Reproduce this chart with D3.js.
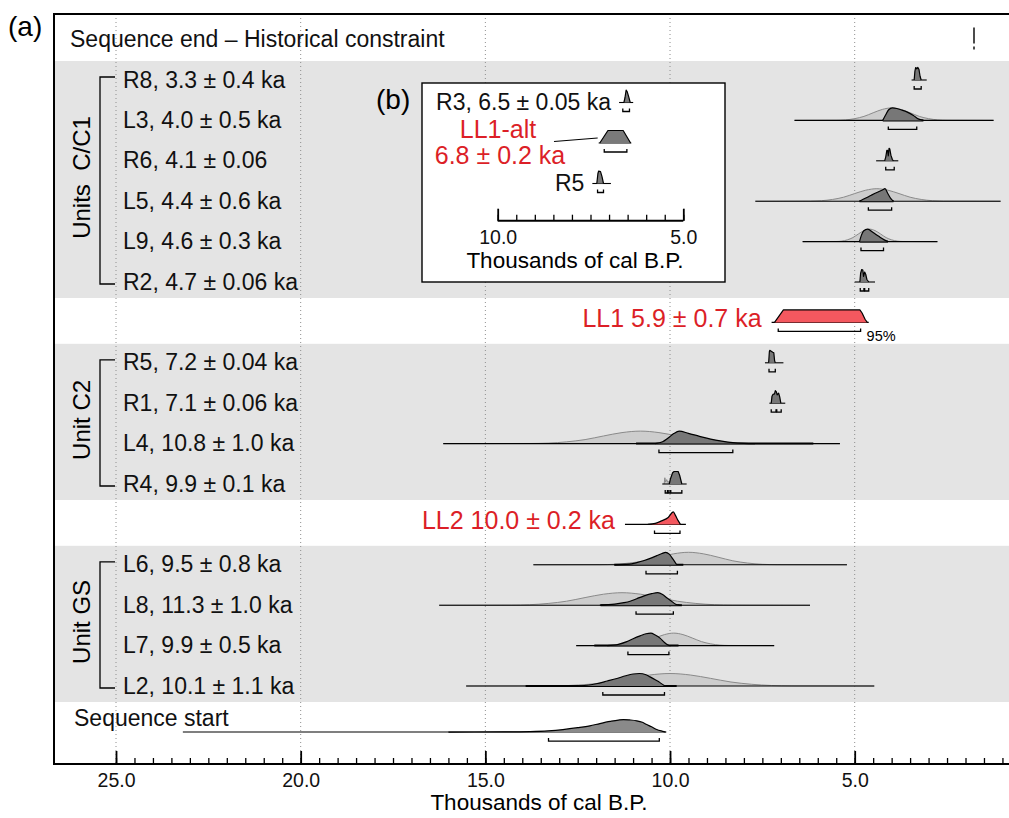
<!DOCTYPE html>
<html>
<head>
	<meta charset="utf-8">
	<title>Sequence model</title>
	<script src="https://cdn.jsdelivr.net/npm/d3@7"></script>
	<style>
		body { margin: 0; background: #fff; }
		svg { font-family: "Liberation Sans", Arial, Helvetica, sans-serif; }
	</style>
</head>
<body>
<div id="chart"></div>
<script>

	// data, top to bottom (ages in thousands of cal B.P., heights relative to peak)

	const rowLabels = [
		"Sequence end – Historical constraint",
		"R8, 3.3 ± 0.4 ka", "L3, 4.0 ± 0.5 ka", "R6, 4.1 ± 0.06", "L5, 4.4 ± 0.6 ka", "L9, 4.6 ± 0.3 ka", "R2, 4.7 ± 0.06 ka",
		"LL1 5.9 ± 0.7 ka",
		"R5, 7.2 ± 0.04 ka", "R1, 7.1 ± 0.06 ka", "L4, 10.8 ± 1.0 ka", "R4, 9.9 ± 0.1 ka",
		"LL2 10.0 ± 0.2 ka",
		"L6, 9.5 ± 0.8 ka", "L8, 11.3 ± 1.0 ka", "L7, 9.9 ± 0.5 ka", "L2, 10.1 ± 1.1 ka",
		"Sequence start"
	];
	const rowKinds = ["end", "R", "L", "R", "L", "L", "R", "model", "R", "R", "L", "R", "model", "L", "L", "L", "L", "start"];

	const groups = [
		{ name: "Units\u00a0 C/C1", from: 1, to: 6 },
		{ name: "Unit C2", from: 8, to: 11 },
		{ name: "Unit GS", from: 13, to: 16 }
	];

	const constraintAge = 1.77;

	const priors = [
		null, null,
		[[6.63,0],[5.5,.01],[5.25,.04],[5.0,.14],[4.75,.32],[4.5,.61],[4.25,.88],[4.0,1],[3.75,.88],[3.5,.61],[3.25,.32],[3.0,.14],[2.75,.04],[2.5,.01],[1.24,0]],
		null,
		[[7.69,0],[6.2,.01],[5.9,.04],[5.6,.14],[5.3,.32],[5.0,.61],[4.7,.88],[4.4,1],[4.1,.88],[3.8,.61],[3.5,.32],[3.2,.14],[2.9,.04],[2.6,.01],[1.05,0]],
		[[6.41,0],[5.5,.01],[5.35,.04],[5.2,.14],[5.05,.32],[4.9,.61],[4.75,.88],[4.6,1],[4.45,.88],[4.3,.61],[4.15,.32],[4.0,.14],[3.85,.04],[3.7,.01],[2.76,0]],
		null, null, null, null,
		[[16.14,0],[13.8,.01],[13.3,.04],[12.8,.14],[12.3,.32],[11.8,.61],[11.3,.88],[10.8,1],[10.3,.88],[9.8,.61],[9.3,.32],[8.8,.14],[8.3,.04],[7.8,.01],[5.4,0]],
		[[10.16,0],[10.14,.5],[10.12,.15],[10.09,.35],[10.06,.12],[10.03,.2],[10.02,0]],
		null,
		[[13.7,0],[11.9,.01],[11.5,.04],[11.1,.14],[10.7,.32],[10.3,.61],[9.9,.88],[9.5,1],[9.1,.88],[8.7,.61],[8.3,.32],[7.9,.14],[7.5,.04],[7.1,.01],[5.21,0]],
		[[16.25,0],[14.3,.01],[13.8,.04],[13.3,.14],[12.8,.32],[12.3,.61],[11.8,.88],[11.3,1],[10.8,.88],[10.3,.61],[9.8,.32],[9.3,.14],[8.8,.04],[8.3,.01],[6.21,0]],
		[[12.54,0],[11.4,.01],[11.15,.04],[10.9,.14],[10.65,.32],[10.4,.61],[10.15,.88],[9.9,1],[9.65,.88],[9.4,.61],[9.15,.32],[8.9,.14],[8.65,.04],[8.4,.01],[7.18,0]],
		[[15.52,0],[13.3,.01],[12.75,.04],[12.2,.14],[11.65,.32],[11.1,.61],[10.55,.88],[10.0,1],[9.45,.88],[8.9,.61],[8.35,.32],[7.8,.14],[7.25,.04],[6.7,.01],[4.47,0]],
		null
	];

	const posteriors = [
		null,
		[[3.39,0],[3.37,.7],[3.35,1],[3.32,.9],[3.29,1],[3.26,.85],[3.23,.3],[3.2,0]],
		[[4.24,0],[4.16,.45],[4.08,.85],[3.98,1],[3.86,.95],[3.72,.82],[3.59,.68],[3.41,.4],[3.28,.12],[3.14,0]],
		[[4.19,0],[4.16,.3],[4.13,.84],[4.11,.84],[4.09,.4],[4.07,1],[4.05,.95],[4.02,.45],[3.98,.1],[3.95,0]],
		[[4.87,0],[4.7,.25],[4.55,.48],[4.4,.7],[4.25,.9],[4.18,1],[4.1,.6],[4.02,.2],[3.95,0]],
		[[4.87,0],[4.82,.5],[4.76,.85],[4.65,1],[4.5,.72],[4.35,.42],[4.2,.14],[4.1,0]],
		[[4.86,0],[4.84,.7],[4.81,1],[4.78,.95],[4.76,.45],[4.73,.8],[4.7,.6],[4.67,.2],[4.62,0]],
		[[7.17,0],[6.93,1],[4.86,1],[4.8,.75],[4.72,.25],[4.66,0]],
		[[7.33,0],[7.31,.9],[7.3,1],[7.27,.95],[7.22,.85],[7.19,.8],[7.17,.2],[7.15,0]],
		[[7.26,0],[7.24,.55],[7.21,.71],[7.17,.75],[7.15,1],[7.12,.9],[7.1,.66],[7.06,.8],[7.03,.5],[7.0,0]],
		[[10.4,0],[10.2,.15],[10.05,.45],[9.9,.8],[9.75,1],[9.5,.82],[9.2,.58],[8.9,.36],[8.6,.2],[8.3,.08],[8.0,.02],[7.7,0]],
		[[10.02,0],[9.99,.4],[9.93,.9],[9.89,1],[9.78,1],[9.74,.7],[9.68,0]],
		[[10.6,0],[10.4,.08],[10.23,.28],[10.05,.55],[9.91,1],[9.85,.7],[9.78,.3],[9.72,0]],
		[[11.5,0],[11.1,.05],[10.9,.18],[10.72,.32],[10.5,.55],[10.36,.73],[10.22,.9],[10.12,1],[10.02,.85],[9.92,.45],[9.82,0]],
		[[11.9,0],[11.5,.08],[11.25,.2],[11.08,.32],[10.9,.52],[10.72,.73],[10.5,.92],[10.33,1],[10.2,.85],[10.09,.6],[9.95,.3],[9.86,.1],[9.75,0]],
		[[11.7,0],[11.4,.1],[11.17,.32],[11.0,.55],[10.81,.78],[10.65,.95],[10.52,1],[10.4,.85],[10.27,.6],[10.15,.25],[10.03,0]],
		[[12.5,0],[12.2,.08],[12.0,.18],[11.7,.4],[11.44,.6],[11.2,.82],[11.0,.96],[10.83,1],[10.65,.9],[10.54,.73],[10.4,.5],[10.27,.27],[10.18,.08],[10.12,0]],
		[[16.0,0],[14.5,.01],[13.8,.04],[13.3,.1],[12.9,.2],[12.5,.35],[12.17,.5],[11.9,.68],[11.62,.85],[11.4,.96],[11.26,1],[11.1,.97],[10.9,.9],[10.75,.78],[10.63,.6],[10.5,.42],[10.36,.2],[10.2,.06],[10.12,0]]
	];

	const lineExtents = [
		null, [3.46,3.05], [6.63,1.24], [4.42,3.82], [7.69,1.05], [6.41,2.76], [5.0,4.45],
		[7.25,4.62], [7.43,6.93], [7.31,6.88], [16.14,5.4], [10.21,9.55], [11.22,9.57],
		[13.7,5.21], [16.25,6.21], [12.54,7.18], [15.52,4.47], [23.19,10.1]
	];

	const posteriorLines = [
		null, null, [4.24,3.14], null, [4.87,3.95], [4.87,4.1], null, null, null, null,
		[10.92,6.12], null, null, [11.51,9.64], [11.88,9.68], [12.05,9.77], [13.91,9.82], null
	];

	const ranges95 = [
		null, [[3.39,3.2]], [[4.09,3.32]], [[4.16,3.93]], [[4.63,4.0]], [[4.83,4.22]], [[4.85,4.75],[4.73,4.62]],
		[[7.07,4.84]], [[7.32,7.15]], [[7.26,7.13],[7.11,6.99]], [[10.3,8.3]], [[10.13,10.07],[10.05,10.0],[9.98,9.68]],
		[[10.42,9.73]], [[10.65,9.8]], [[10.92,9.91]], [[11.14,10.03]], [[11.82,10.15]], [[13.29,10.29]]
	];

	// inset (b)
	const insetLabels = ["R3, 6.5 ± 0.05 ka", ["LL1-alt", "6.8 ± 0.2 ka"], "R5"];
	const insetPosteriors = [
		[[6.6,0],[6.57,.4],[6.54,1],[6.51,.85],[6.47,.45],[6.43,0]],
		[[7.25,0],[7.03,1],[6.62,1],[6.42,0]],
		[[7.33,0],[7.3,.8],[7.28,1],[7.23,.95],[7.19,.55],[7.15,0]]
	];
	const insetLines = [[6.73,6.35], [7.28,6.4], [7.45,6.95]];
	const insetRanges = [[[6.63,6.45]], [[7.13,6.52]], [[7.31,7.15]]];

	const majorTicks = [25, 20, 15, 10, 5];
	const insetMajorTicks = [10, 5];

	// layout

	const width = 1009, height = 818;
	const frame = { left: 54, top: 14, bottom: 764 };
	const red = "#dc1f27", redFill = "#f4585f";

	const x = d3.scaleLinear().domain([25, 5]).range([116, 854.7]);
	const y = d3.scaleLinear().domain([1, 16]).range([80, 686]);
	const h = d3.scaleLinear().domain([0, 1]).range([0, 12.5]);
	const rowY = i => y(i === rowLabels.length - 1 ? 17.14 : i);

	const svg = d3.select("#chart").append("svg")
		.attr("width", width)
		.attr("height", height);

	// grey bands behind grouped rows
	svg.selectAll("rect.band")
		.data(groups)
		.join("rect")
		.attr("class", "band")
		.attr("x", frame.left)
		.attr("y", d => y(d.from) - 19)
		.attr("width", width - frame.left)
		.attr("height", d => y(d.to) - y(d.from) + 35)
		.attr("fill", "#e4e4e4");

	// dotted grid
	svg.selectAll("line.grid")
		.data(majorTicks)
		.join("line")
		.attr("class", "grid")
		.attr("x1", d => x(d)).attr("x2", d => x(d))
		.attr("y1", frame.top).attr("y2", frame.bottom)
		.attr("stroke", "#8e8e8e")
		.attr("stroke-width", 1)
		.attr("stroke-dasharray", "1,3");

	// axis
	const minorTicks = d3.range(25, 0.9, -0.5);
	const axis = svg.append("g").attr("transform", `translate(0,${frame.bottom})`);
	axis.append("g")
		.call(d3.axisTop(x).tickValues(minorTicks).tickSize(6).tickFormat(""))
		.call(g => g.selectAll(".tick line").attr("stroke-width", 1.3));
	axis.append("g")
		.call(d3.axisTop(x).tickValues(majorTicks).tickSize(13).tickFormat(""))
		.call(g => g.selectAll(".tick line").attr("stroke-width", 1.8));
	axis.append("g")
		.call(d3.axisBottom(x).tickValues(majorTicks).tickSize(0).tickPadding(9).tickFormat(d3.format(".1f")))
		.call(g => g.selectAll("text").attr("font-size", 19.5).attr("fill", "#111"))
		.attr("font-family", null);
	axis.selectAll(".domain").remove();

	svg.append("text")
		.attr("x", 539).attr("y", 810)
		.attr("text-anchor", "middle")
		.attr("font-size", 22.5)
		.text("Thousands of cal B.P.");

	// frame
	svg.append("path")
		.attr("d", `M${width},${frame.top}H${frame.left}V${frame.bottom}H${width}`)
		.attr("fill", "none")
		.attr("stroke", "#000")
		.attr("stroke-width", 2);

	// distributions
	function drawDist(g, pts, yb, sx, fill, stroke, sw, curve) {
		const sorted = pts.slice().sort((a, b) => b[0] - a[0]);
		g.append("path")
			.attr("d", d3.area().x(d => sx(d[0])).y0(yb).y1(d => yb - h(d[1])).curve(curve)(sorted))
			.attr("fill", fill);
		g.append("path")
			.attr("d", d3.line().x(d => sx(d[0])).y(d => yb - h(d[1])).curve(curve)(sorted))
			.attr("fill", "none")
			.attr("stroke", stroke)
			.attr("stroke-width", sw)
			.attr("stroke-linejoin", "round");
	}
	function drawLine(g, ext, yb, sx, sw) {
		g.append("line")
			.attr("x1", sx(ext[0])).attr("x2", sx(ext[1]))
			.attr("y1", yb).attr("y2", yb)
			.attr("stroke", "#000").attr("stroke-width", sw);
	}
	function drawRanges(g, rs, yb, sx) {
		const yr = yb + 9;
		rs.forEach(r => g.append("path")
			.attr("d", `M${sx(r[0])},${yr - 3}V${yr}H${sx(r[1])}V${yr - 3}`)
			.attr("fill", "none")
			.attr("stroke", "#000")
			.attr("stroke-width", 1.3));
	}

	const dist = svg.append("g");
	rowLabels.forEach((label, i) => {
		const yb = rowY(i);
		const kind = rowKinds[i];
		if (priors[i]) {
			const curve = kind === "L" ? d3.curveMonotoneX : d3.curveLinear;
			drawDist(dist, priors[i], yb, x, "#cdcdcd", "#8a8a8a", 1, curve);
		}
		if (lineExtents[i]) drawLine(dist, lineExtents[i], yb, x, 1.1);
		if (posteriorLines[i]) drawLine(dist, posteriorLines[i], yb, x, 2);
		if (posteriors[i]) {
			const smooth = kind === "L" || kind === "start" || i === 12;
			const fill = kind === "model" ? redFill : kind === "start" ? "#8a8a8a" : "#777";
			drawDist(dist, posteriors[i], yb, x, fill, "#000", 1.2, smooth ? d3.curveMonotoneX : d3.curveLinear);
		}
		if (ranges95[i]) drawRanges(dist, ranges95[i], yb, x);
	});

	// historical constraint marker
	svg.append("path")
		.attr("d", `M${x(constraintAge)},${rowY(0) - 12}V${rowY(0) + 4}M${x(constraintAge)},${rowY(0) + 7}V${rowY(0) + 10}`)
		.attr("stroke", "#000")
		.attr("stroke-width", 1.4);

	// "95%" note on LL1
	svg.append("text")
		.attr("x", x(ranges95[7][0][1]) + 6)
		.attr("y", rowY(7) + 19)
		.attr("font-size", 14.5)
		.text("95%");

	// row labels
	rowLabels.forEach((label, i) => {
		const yb = rowY(i);
		const kind = rowKinds[i];
		const t = svg.append("text").attr("font-size", 23).attr("fill", "#111").text(label);
		if (kind === "end") t.attr("x", 70).attr("y", yb + 7.5);
		else if (kind === "start") t.attr("x", 74).attr("y", yb - 6);
		else if (kind === "model") t.attr("x", x(lineExtents[i][0]) - 10).attr("y", yb + 5)
			.attr("text-anchor", "end").attr("fill", red).attr("font-size", 25);
		else t.attr("x", 123).attr("y", yb + 7.5);
	});

	// group brackets and labels
	groups.forEach(gr => {
		const top = y(gr.from) - 3, bot = y(gr.to) + 2;
		svg.append("path")
			.attr("d", `M115,${top}H100V${bot}H115`)
			.attr("fill", "none")
			.attr("stroke", "#000")
			.attr("stroke-width", 1.3);
		svg.append("text")
			.attr("transform", `translate(90,${(top + bot) / 2 - 3}) rotate(-90)`)
			.attr("text-anchor", "middle")
			.attr("font-size", 24)
			.text(gr.name);
	});

	svg.append("text").attr("x", 8).attr("y", 36).attr("font-size", 28).text("(a)");
	svg.append("text").attr("x", 376).attr("y", 109).attr("font-size", 28).text("(b)");

	// inset (b)
	const inset = svg.append("g");
	inset.append("rect")
		.attr("x", 422).attr("y", 83)
		.attr("width", 303).attr("height", 199)
		.attr("fill", "#fff")
		.attr("stroke", "#000")
		.attr("stroke-width", 1.4);

	const xi = d3.scaleLinear().domain([10, 5]).range([497.7, 683.3]);
	const yi = d3.scaleLinear().domain([0, 2]).range([102.5, 183.5]);

	insetLabels.forEach((label, i) => {
		const yb = yi(i);
		drawLine(inset, insetLines[i], yb, xi, 1.1);
		drawDist(inset, insetPosteriors[i], yb, xi, "#7a7a7a", "#000", 1.2, d3.curveLinear);
		drawRanges(inset, insetRanges[i], yb, xi);
		if (Array.isArray(label)) {
			inset.append("text").attr("x", 498).attr("y", yb - 5)
				.attr("text-anchor", "middle").attr("font-size", 25).attr("fill", red).text(label[0]);
			inset.append("text").attr("x", 500).attr("y", yb + 21)
				.attr("text-anchor", "middle").attr("font-size", 25).attr("fill", red).text(label[1]);
			inset.append("line")
				.attr("x1", 554).attr("y1", yb - 1.5)
				.attr("x2", xi(insetLines[i][0]) - 1).attr("y2", yb - 5)
				.attr("stroke", "#000").attr("stroke-width", 1.1);
		} else {
			inset.append("text")
				.attr("x", xi(insetLines[i][0]) - 8).attr("y", yb + 7.5)
				.attr("text-anchor", "end").attr("font-size", 23).attr("fill", "#111")
				.text(label);
		}
	});

	const insetAxisY = 220.7;
	const ia = inset.append("g").attr("transform", `translate(0,${insetAxisY})`);
	ia.append("g")
		.call(d3.axisTop(xi).tickValues(d3.range(10, 4.9, -0.5)).tickSize(6).tickFormat(""))
		.call(g => g.selectAll(".tick line").attr("stroke-width", 1.3));
	ia.append("g")
		.call(d3.axisTop(xi).tickValues(insetMajorTicks).tickSize(12).tickFormat(""))
		.call(g => g.selectAll(".tick line").attr("stroke-width", 1.8));
	ia.append("g")
		.call(d3.axisBottom(xi).tickValues(insetMajorTicks).tickSize(0).tickPadding(9).tickFormat(d3.format(".1f")))
		.call(g => g.selectAll("text").attr("font-size", 19.5).attr("fill", "#111"))
		.attr("font-family", null);
	ia.selectAll(".domain").remove();
	ia.append("line")
		.attr("x1", xi(10)).attr("x2", xi(5))
		.attr("stroke", "#000").attr("stroke-width", 2);

	inset.append("text")
		.attr("x", 575).attr("y", 268)
		.attr("text-anchor", "middle")
		.attr("font-size", 22.5)
		.text("Thousands of cal B.P.");

</script>
</body>
</html>
